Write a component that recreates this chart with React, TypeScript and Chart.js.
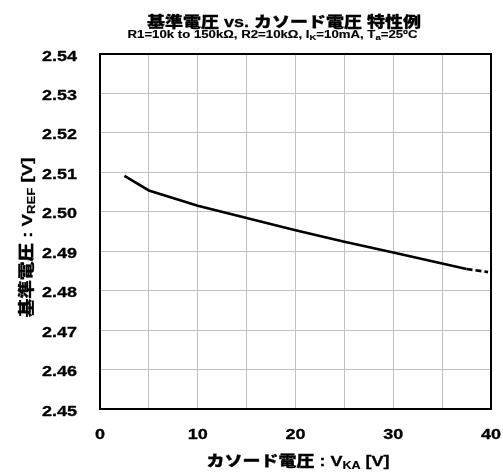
import React, { useEffect, useRef } from "react";
import { Chart, registerables } from "chart.js";

Chart.register(...registerables);

// ---- data ----
const X_SOLID = [2.5, 5, 10, 15, 20, 25, 30, 35, 37.5];
const Y_SOLID = [2.5091, 2.5054, 2.5015, 2.4984, 2.4953, 2.4924, 2.4897, 2.4869, 2.4855];
const X_DASH = [37.5, 39.7];
const Y_DASH = [2.4855, 2.4847];
const X_TICK_LABELS = [0, 10, 20, 30, 40];
const Y_TICK_LABELS = [2.45, 2.46, 2.47, 2.48, 2.49, 2.5, 2.51, 2.52, 2.53, 2.54];
const TITLE = "基準電圧 vs. カソード電圧 特性例";
const X_TITLE = ["カソード電圧 : V", "KA", " [V]"];
const Y_TITLE = ["基準電圧 : V", "REF", " [V]"];

type Run = { t: string; size: number; dy: number };
const SX = 1.2;
const FAM = '"Liberation Sans", "Noto Sans CJK JP", sans-serif';

function drawRuns(ctx: CanvasRenderingContext2D, runs: Run[], x: number, y: number, align: "center" | "right" | "left") {
  let total = 0;
  const widths = runs.map((r) => {
    ctx.font = `900 ${r.size}px ${FAM}`;
    const w = ctx.measureText(r.t).width * SX;
    total += w;
    return w;
  });
  let cur = align === "center" ? x - total / 2 : align === "right" ? x - total : x;
  runs.forEach((r, i) => {
    ctx.save();
    ctx.font = `900 ${r.size}px ${FAM}`;
    ctx.textAlign = "left";
    ctx.textBaseline = "alphabetic";
    ctx.fillStyle = "#000";
    ctx.strokeStyle = "#000";
    ctx.lineWidth = r.size > 12 ? 0.3 : 0.15;
    ctx.lineJoin = "round";
    ctx.translate(cur, y + r.dy);
    ctx.scale(SX, 1);
    ctx.fillText(r.t, 0, 0);
    ctx.strokeText(r.t, 0, 0);
    ctx.restore();
    cur += widths[i];
  });
}

const textPlugin = {
  id: "texts",
  afterDraw(chart: any) {
    const ctx: CanvasRenderingContext2D = chart.ctx;
    const a = chart.chartArea;
    const xs = chart.scales.x;
    const ys = chart.scales.y;
    // frame
    ctx.save();
    ctx.strokeStyle = "#000";
    ctx.lineWidth = 2;
    ctx.strokeRect(a.left, a.top, a.right - a.left, a.bottom - a.top);
    ctx.restore();
    // y ticks
    Y_TICK_LABELS.forEach((v) => {
      drawRuns(ctx, [{ t: v.toFixed(2), size: 15, dy: 0 }], 77, ys.getPixelForValue(v) + 6.5, "right");
    });
    // x ticks
    X_TICK_LABELS.forEach((v) => {
      drawRuns(ctx, [{ t: String(v), size: 15, dy: 0 }], xs.getPixelForValue(v), 439, "center");
    });
    // title
    drawRuns(ctx, [{ t: TITLE, size: 15, dy: 0 }], 284, 26.5, "center");
    drawRuns(
      ctx,
      [
        { t: "R1=10k to 150kΩ, R2=10kΩ, I", size: 11, dy: 0 },
        { t: "K", size: 8, dy: 2.5 },
        { t: "=10mA, T", size: 11, dy: 0 },
        { t: "a", size: 8, dy: 2.5 },
        { t: "=25ºC", size: 11, dy: 0 },
      ],
      272.5,
      37.5,
      "center"
    );
    // x title
    drawRuns(
      ctx,
      [
        { t: X_TITLE[0], size: 15, dy: 0 },
        { t: X_TITLE[1], size: 10.5, dy: 3 },
        { t: X_TITLE[2], size: 15, dy: 0 },
      ],
      298,
      466,
      "center"
    );
    // y title
    ctx.save();
    ctx.translate(32, 237.5);
    ctx.rotate(-Math.PI / 2);
    drawRuns(
      ctx,
      [
        { t: Y_TITLE[0], size: 15.5, dy: 0 },
        { t: Y_TITLE[1], size: 11, dy: 3 },
        { t: Y_TITLE[2], size: 15.5, dy: 0 },
      ],
      0,
      0,
      "center"
    );
    ctx.restore();
  },
};

const bgPlugin = {
  id: "bg",
  beforeDraw(chart: any) {
    const ctx = chart.ctx;
    ctx.save();
    ctx.fillStyle = "#fff";
    ctx.fillRect(0, 0, chart.width, chart.height);
    ctx.restore();
  },
};

export default function App() {
  const ref = useRef<HTMLCanvasElement>(null);
  useEffect(() => {
    if (!ref.current) return;
    const chart = new Chart(ref.current, {
      type: "scatter",
      data: {
        datasets: [
          {
            data: X_SOLID.map((x, i) => ({ x, y: Y_SOLID[i] })),
            showLine: true,
            borderColor: "#000",
            borderWidth: 2.6,
            pointRadius: 0,
            tension: 0,
          },
          {
            data: X_DASH.map((x, i) => ({ x, y: Y_DASH[i] })),
            showLine: true,
            borderColor: "#000",
            borderWidth: 2.6,
            borderDash: [6, 3],
            pointRadius: 0,
            tension: 0,
          },
        ],
      },
      options: {
        responsive: false,
        animation: false,
        layout: { padding: { left: 100, top: 54, right: 12, bottom: 64 } },
        plugins: { legend: { display: false }, tooltip: { enabled: false }, title: { display: false } },
        scales: {
          x: {
            type: "linear",
            min: 0,
            max: 40,
            ticks: { display: false, stepSize: 5 },
            grid: { color: "#c0c0c0", lineWidth: 1, drawTicks: false },
            border: { display: false },
            afterFit: (s: any) => {
              s.height = 0;
            },
          },
          y: {
            type: "linear",
            min: 2.45,
            max: 2.54,
            ticks: { display: false, stepSize: 0.01 },
            grid: { color: "#c0c0c0", lineWidth: 1, drawTicks: false },
            border: { display: false },
            afterFit: (s: any) => {
              s.width = 0;
            },
          },
        },
      } as any,
      plugins: [bgPlugin, textPlugin],
    });
    return () => chart.destroy();
  }, []);
  return (
    <div style={{ position: "absolute", left: 0, top: 0, width: 503, height: 473 }}>
      <canvas ref={ref} width={503} height={473} />
    </div>
  );
}
